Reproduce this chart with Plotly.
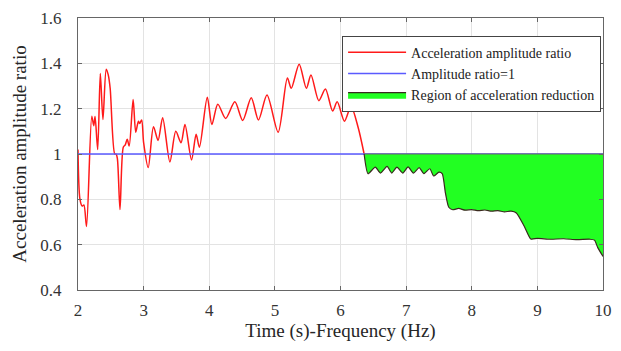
import plotly.graph_objects as go

# Acceleration amplitude ratio, read along the time/frequency axis (above the unit line)
ratio_x = [2.00, 2.03, 2.065, 2.09, 2.13, 2.21, 2.24, 2.26, 2.30, 2.34, 2.38, 2.43, 2.46,
           2.49, 2.56, 2.58, 2.60, 2.64, 2.69, 2.72, 2.75, 2.78, 2.84, 2.88, 2.92, 2.94,
           2.97, 3.00, 3.07, 3.15, 3.22, 3.29, 3.40, 3.49, 3.57, 3.63, 3.73, 3.80, 3.85,
           3.97, 4.04, 4.13, 4.25, 4.39, 4.51, 4.64, 4.75, 4.88, 5.05, 5.19, 5.25, 5.37,
           5.48, 5.55, 5.67, 5.77, 5.88, 5.95, 6.06, 6.16, 6.27, 6.36]
ratio_y = [1.02, 0.80, 0.77, 0.775, 0.68, 1.167, 1.125, 1.165, 1.02, 1.355, 1.152, 1.374, 1.35,
           1.29, 1.00, 1.00, 0.98, 0.755, 1.03, 1.04, 1.065, 1.035, 1.24, 1.096, 1.144, 1.135,
           1.15, 1.05, 0.94, 1.12, 1.06, 1.16, 0.965, 1.10, 1.05, 1.13, 0.974, 1.087, 1.03,
           1.25, 1.13, 1.22, 1.157, 1.23, 1.148, 1.248, 1.15, 1.26, 1.096, 1.335, 1.29, 1.396,
           1.29, 1.348, 1.235, 1.287, 1.19, 1.23, 1.145, 1.21, 1.116, 1.00]

# Ratio below 1 (reduction region)
reduce_x = [6.36, 6.42, 6.53, 6.61, 6.71, 6.78, 6.86, 6.95, 7.03, 7.11, 7.20, 7.27, 7.36,
            7.42, 7.50, 7.55, 7.60, 7.65, 7.71, 7.80, 7.90, 8.00, 8.10, 8.20, 8.30, 8.40,
            8.50, 8.60, 8.68, 8.80, 8.90, 9.00, 9.20, 9.40, 9.60, 9.80, 9.87, 9.92, 10.00]
reduce_y = [1.00, 0.913, 0.942, 0.916, 0.945, 0.916, 0.942, 0.916, 0.943, 0.916, 0.94, 0.913,
            0.935, 0.903, 0.92, 0.913, 0.826, 0.765, 0.754, 0.76, 0.752, 0.755, 0.75, 0.753,
            0.748, 0.75, 0.745, 0.748, 0.74, 0.681, 0.625, 0.628, 0.624, 0.626, 0.622, 0.624,
            0.62, 0.587, 0.548]

unit_x = [2, 10]
unit_y = [1, 1]

x_ticks = [2, 3, 4, 5, 6, 7, 8, 9, 10]
y_ticks = [0.4, 0.6, 0.8, 1.0, 1.2, 1.4, 1.6]
y_tick_text = ["0.4", "0.6", "0.8", "1", "1.2", "1.4", "1.6"]

serif = "Liberation Serif, Times New Roman, serif"

fig = go.Figure()

fig.add_trace(go.Scatter(
    x=ratio_x, y=ratio_y, mode="lines", name="Acceleration amplitude ratio",
    line=dict(color="#ff1a1a", width=1.5, shape="spline", smoothing=0.8),
))
fig.add_trace(go.Scatter(
    x=unit_x, y=unit_y, mode="lines", name="Amplitude ratio=1",
    line=dict(color="#5a5aff", width=1.4),
))
# upper edge of the shaded region
fig.add_trace(go.Scatter(
    x=[reduce_x[0], reduce_x[-1]], y=[1, 1], mode="lines", showlegend=False,
    line=dict(color="#666666", width=1.2), hoverinfo="skip",
))
fig.add_trace(go.Scatter(
    x=reduce_x, y=reduce_y, mode="lines", name="Region of acceleration reduction",
    fill="tonexty", fillcolor="#22ff22",
    line=dict(color="#3a2a1e", width=1.2, shape="spline", smoothing=0.6),
))

axis_common = dict(
    showline=True, linecolor="#666666", linewidth=1, mirror="allticks",
    ticks="inside", ticklen=4, tickcolor="#666666",
    showgrid=True, gridcolor="#e3e3e3", gridwidth=1, zeroline=False,
    tickfont=dict(family=serif, size=17, color="#333333"),
)

fig.update_layout(
    width=621, height=351,
    margin=dict(l=78, r=9, t=13, b=61),
    paper_bgcolor="white", plot_bgcolor="white",
    font=dict(family=serif, color="#262626"),
    xaxis=dict(range=[2, 10], tickvals=x_ticks, ticklabelstandoff=5,
               title=dict(text="Time (s)-Frequency (Hz)", font=dict(size=19, family=serif),
                          standoff=4),
               **axis_common),
    yaxis=dict(range=[0.4, 1.6], tickvals=y_ticks, ticktext=y_tick_text,
               ticklabelstandoff=12,
               title=dict(text="Acceleration amplitude ratio", font=dict(size=19, family=serif),
                          standoff=8),
               **axis_common),
    legend=dict(x=0.503, y=0.935, xanchor="left", yanchor="top",
                bgcolor="white", bordercolor="#444444", borderwidth=1,
                font=dict(family=serif, size=14, color="#222222"),
                traceorder="normal", tracegroupgap=0, itemwidth=58),
    showlegend=True,
)

fig.write_html("out.html")
